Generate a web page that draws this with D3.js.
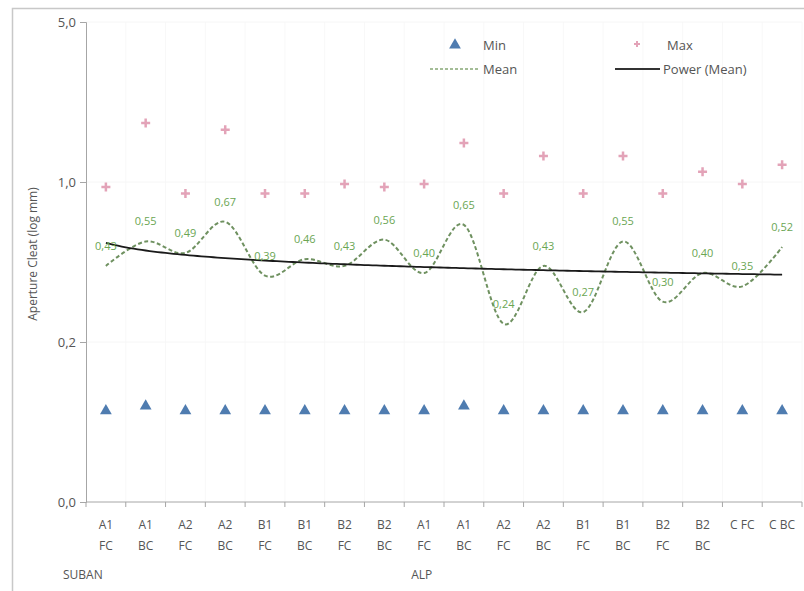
<!doctype html>
<html>
  <head>
    <meta charset="utf-8">
    <title>Aperture Cleat</title>
    <script src="https://cdn.jsdelivr.net/npm/d3@7"></script>
    <style>
      body { margin: 0; background: #fff; }
      text { font-family: "Open Sans", "Liberation Sans", sans-serif; fill: #555; }
    </style>
  </head>
  <body>
    <script>
      const svgWidth = 804;
      const svgHeight = 591;

      // data
      const categories = ['A1\nFC', 'A1\nBC', 'A2\nFC', 'A2\nBC', 'B1\nFC', 'B1\nBC', 'B2\nFC', 'B2\nBC',
                          'A1\nFC', 'A1\nBC', 'A2\nFC', 'A2\nBC', 'B1\nFC', 'B1\nBC', 'B2\nFC', 'B2\nBC', 'C FC', 'C BC'];
      const groups = [{ name: 'SUBAN', start: 0 }, { name: 'ALP', start: 8 }];
      const minValues = [0.10, 0.105, 0.10, 0.10, 0.10, 0.10, 0.10, 0.10, 0.10,
                         0.105, 0.10, 0.10, 0.10, 0.10, 0.10, 0.10, 0.10, 0.10];
      const maxValues = [0.95, 1.81, 0.89, 1.69, 0.89, 0.89, 0.98, 0.95, 0.98,
                         1.48, 0.89, 1.30, 0.89, 1.30, 0.89, 1.11, 0.98, 1.19];
      const meanValues = [0.43, 0.55, 0.49, 0.67, 0.39, 0.46, 0.43, 0.56, 0.40,
                          0.65, 0.24, 0.43, 0.27, 0.55, 0.30, 0.40, 0.35, 0.52];
      const yTicks = [5, 1, 0.2, 0.04];

      const margin = { top: 22, left: 86, right: 2, bottom: 89 };
      const plotW = svgWidth - margin.left - margin.right;
      const plotH = svgHeight - margin.top - margin.bottom;

      const fmt = v => d3.format('.1f')(v).replace('.', ',');

      const svg = d3.select('body').append('svg')
          .attr('width', svgWidth)
          .attr('height', svgHeight);

      // outer frame
      svg.append('rect')
          .attr('x', 12.5).attr('y', 8.5)
          .attr('width', 800).attr('height', 600)
          .attr('fill', 'none')
          .attr('stroke', '#c8c8c8')
          .attr('stroke-width', 1.5);

      const g = svg.append('g')
          .attr('transform', `translate(${margin.left},${margin.top})`);

      const x = d3.scaleBand()
          .domain(d3.range(categories.length))
          .range([0, plotW]);

      const y = d3.scaleLog()
          .base(5)
          .domain([0.04, 5])
          .range([plotH, 0]);

      const cx = i => x(i) + x.bandwidth() / 2;

      // faint gridlines
      g.append('g')
        .selectAll('line')
        .data(d3.range(1, categories.length + 1))
        .enter().append('line')
          .attr('x1', i => x.step() * i).attr('x2', i => x.step() * i)
          .attr('y1', 0).attr('y2', plotH)
          .attr('stroke', '#f8f8f8');

      g.append('g')
        .selectAll('line')
        .data(yTicks.slice(0, 3))
        .enter().append('line')
          .attr('x1', 0).attr('x2', plotW)
          .attr('y1', d => y(d)).attr('y2', d => y(d))
          .attr('stroke', '#f6f6f6');

      // y axis
      const yAxis = g.append('g')
          .call(d3.axisLeft(y).tickValues(yTicks).tickFormat(fmt).tickSize(6).tickPadding(4));
      yAxis.select('.domain').attr('stroke', '#a6a6a6');
      yAxis.selectAll('.tick line').attr('stroke', '#a6a6a6');
      yAxis.selectAll('.tick text')
          .attr('font-size', 13)
          .attr('fill', '#555')
          .style('font-family', '"Open Sans", sans-serif');

      // x axis
      const xAxis = g.append('g')
          .attr('transform', `translate(0,${plotH})`);
      xAxis.append('line')
          .attr('x1', 0).attr('x2', plotW)
          .attr('stroke', '#a6a6a6');
      xAxis.selectAll('.xt')
        .data(d3.range(0, categories.length + 1))
        .enter().append('line')
          .attr('class', 'xt')
          .attr('x1', i => x.step() * i).attr('x2', i => x.step() * i)
          .attr('y1', 0).attr('y2', 5)
          .attr('stroke', '#a6a6a6');

      const catText = xAxis.selectAll('.cat')
        .data(categories)
        .enter().append('text')
          .attr('class', 'cat')
          .attr('text-anchor', 'middle')
          .attr('font-size', 12)
          .attr('transform', (d, i) => `translate(${cx(i)},27)`);
      catText.selectAll('tspan')
        .data(d => d.split('\n'))
        .enter().append('tspan')
          .attr('x', 0)
          .attr('dy', (d, i) => i === 0 ? 0 : 21)
          .text(d => d);

      xAxis.selectAll('.grp')
        .data(groups)
        .enter().append('text')
          .attr('class', 'grp')
          .attr('x', d => x(d.start) - 23 + (d.start === 0 ? 0 : 30))
          .attr('y', 77)
          .attr('font-size', 12)
          .text(d => d.name);

      // axis title
      svg.append('text')
          .attr('transform', `translate(37,${margin.top + plotH / 2 - 8}) rotate(-90)`)
          .attr('text-anchor', 'middle')
          .attr('font-size', 12)
          .text('Aperture Cleat (log mm)');

      // power trendline fitted to the mean values (log-log least squares)
      const lx = meanValues.map((v, i) => Math.log(i + 1));
      const ly = meanValues.map(v => Math.log(v));
      const mx = d3.mean(lx), my = d3.mean(ly);
      const b = d3.sum(lx, (v, i) => (v - mx) * (ly[i] - my)) / d3.sum(lx, v => (v - mx) * (v - mx));
      const a = Math.exp(my - b * mx);
      const trend = d3.range(1, categories.length + 0.001, 0.1).map(t => [t, a * Math.pow(t, b)]);
      const tx = t => cx(0) + (t - 1) * x.step();

      // mean smoothed line
      const meanLine = d3.line()
          .x((d, i) => cx(i))
          .y(d => y(d))
          .curve(d3.curveCatmullRom.alpha(0));

      g.append('path')
          .datum(meanValues)
          .attr('d', meanLine)
          .attr('fill', 'none')
          .attr('stroke', '#6f9160')
          .attr('stroke-width', 2)
          .attr('stroke-dasharray', '4,2.5');

      g.append('path')
          .datum(trend)
          .attr('d', d3.line().x(d => tx(d[0])).y(d => y(d[1])))
          .attr('fill', 'none')
          .attr('stroke', '#1a1a1a')
          .attr('stroke-width', 1.8);

      // mean labels
      g.append('g')
        .selectAll('text')
        .data(meanValues)
        .enter().append('text')
          .attr('x', (d, i) => cx(i))
          .attr('y', d => y(d) - 16)
          .attr('text-anchor', 'middle')
          .attr('font-size', 11)
          .style('fill', '#6aa653')
          .text(d => d3.format('.2f')(d).replace('.', ','));

      // min triangles
      const tri = d3.symbol().type(d3.symbolTriangle).size(60);
      g.append('g')
        .selectAll('path')
        .data(minValues)
        .enter().append('path')
          .attr('d', tri)
          .attr('transform', (d, i) => `translate(${cx(i)},${y(d)})`)
          .attr('fill', '#4f7cb0');

      // max plus markers
      const plus = 'M-4.5,0H4.5M0,-4.5V4.5';
      g.append('g')
        .selectAll('path')
        .data(maxValues)
        .enter().append('path')
          .attr('d', plus)
          .attr('transform', (d, i) => `translate(${cx(i)},${y(d)})`)
          .attr('stroke', '#e3a3b8')
          .attr('stroke-width', 2.5);

      // legend
      const lg = svg.append('g');
      lg.append('path').attr('d', tri).attr('transform', 'translate(455,45)').attr('fill', '#4f7cb0');
      lg.append('text').attr('x', 483).attr('y', 50).attr('font-size', 13).text('Min');
      lg.append('path').attr('d', 'M-3,0H3M0,-3V3').attr('transform', 'translate(637,44)')
          .attr('stroke', '#e3a3b8').attr('stroke-width', 2);
      lg.append('text').attr('x', 667).attr('y', 50).attr('font-size', 13).text('Max');
      lg.append('line').attr('x1', 430).attr('x2', 480).attr('y1', 69).attr('y2', 69)
          .attr('stroke', '#86a876').attr('stroke-width', 1.5).attr('stroke-dasharray', '3,2');
      lg.append('text').attr('x', 483).attr('y', 74).attr('font-size', 13).text('Mean');
      lg.append('line').attr('x1', 615).attr('x2', 660).attr('y1', 69).attr('y2', 69)
          .attr('stroke', '#333').attr('stroke-width', 1.8);
      lg.append('text').attr('x', 663).attr('y', 74).attr('font-size', 13).text('Power (Mean)');
    </script>
  </body>
</html>
